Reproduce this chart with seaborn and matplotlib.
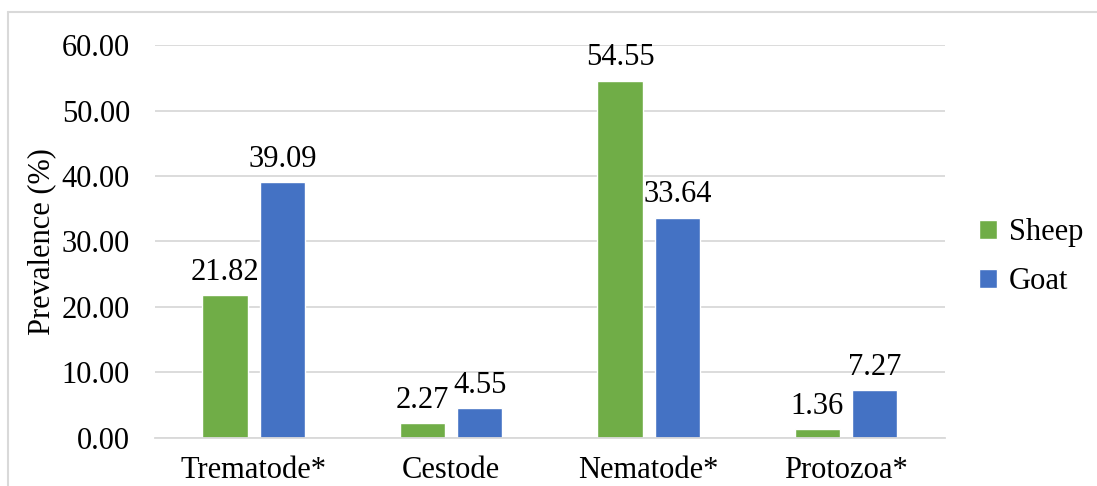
import pandas as pd
import numpy as np
import matplotlib.pyplot as plt
import seaborn as sns
from matplotlib.lines import Line2D

# parasite groups and prevalence (%) per host
categories = ['Trematode*', 'Cestode', 'Nematode*', 'Protozoa*']
sheep = [21.82, 2.27, 54.55, 1.36]
goat = [39.09, 4.55, 33.64, 7.27]
hosts = ['Sheep', 'Goat']
colors = ['#70AD47', '#4472C4']
yticks = [0, 10, 20, 30, 40, 50, 60]

df = pd.DataFrame({
    'group': categories * 2,
    'host': ['Sheep'] * len(sheep) + ['Goat'] * len(goat),
    'prevalence': sheep + goat,
})

sns.set_style('white')
plt.rcParams['font.family'] = ['Liberation Serif', 'DejaVu Serif']
plt.rcParams['text.color'] = 'black'
plt.rcParams['axes.labelcolor'] = 'black'
plt.rcParams['xtick.color'] = 'black'
plt.rcParams['ytick.color'] = 'black'

fig = plt.figure(figsize=(10.97, 4.86), dpi=100)
ax = fig.add_axes([0.1413, 0.0988, 0.72, 0.8086])

sns.barplot(data=df, x='group', y='prevalence', hue='host', hue_order=hosts,
            palette=colors, width=0.58, gap=0.21, saturation=1, ax=ax)

for cont in ax.containers:
    ax.bar_label(cont, fmt='%.2f', padding=6, fontsize=22, color='black')

ax.set_ylim(0, 60)
ax.set_yticks(yticks)
ax.set_yticklabels(['%.2f' % v for v in yticks], fontsize=22)
ax.tick_params(axis='x', labelsize=22, length=0, pad=13)
ax.tick_params(axis='y', length=0, pad=18)
ax.set_xlabel('')
ax.set_ylabel('Prevalence (%)', fontsize=22, labelpad=4)
ax.yaxis.grid(True, color='#D9D9D9', linewidth=1.3)
ax.set_axisbelow(True)
for s in ['top', 'right', 'left']:
    ax.spines[s].set_visible(False)
ax.spines['bottom'].set_color('#D9D9D9')
ax.spines['bottom'].set_linewidth(1.3)

ax.legend(title=None, loc='center left', bbox_to_anchor=(1.008, 0.46), frameon=False,
          fontsize=22, handlelength=0.6, handleheight=0.6, handletextpad=0.4,
          labelspacing=0.65)

# light frame around chart area (top and left edges visible)
fig.add_artist(Line2D([8 / 1097, 1], [1 - 12 / 486, 1 - 12 / 486], color='#D9D9D9',
                      linewidth=1.5, transform=fig.transFigure))
fig.add_artist(Line2D([8 / 1097, 8 / 1097], [0, 1 - 12 / 486], color='#D9D9D9',
                      linewidth=1.5, transform=fig.transFigure))

fig.savefig('out.png', dpi=100)
